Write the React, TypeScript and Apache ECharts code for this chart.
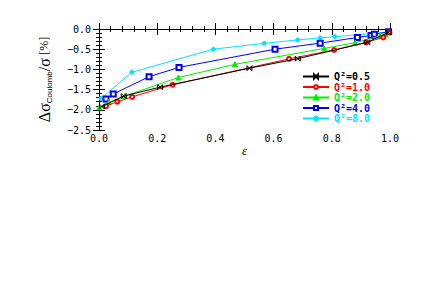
import React, { useEffect, useRef } from "react";
import * as echarts from "echarts";

const seriesNames = ["Q²=0.5", "Q²=1.0", "Q²=2.0", "Q²=4.0", "Q²=8.0"];
const seriesColors = ["#000000", "#ff0000", "#00ee00", "#0000ff", "#00e5ff"];

const q05: number[][] = [
  [0.01, -1.92], [0.085, -1.66], [0.21, -1.44], [0.517, -0.97], [0.683, -0.735], [0.922, -0.33], [0.995, -0.08],
];
const q10: number[][] = [
  [0.024, -1.91], [0.063, -1.8], [0.114, -1.68], [0.253, -1.38], [0.653, -0.74], [0.808, -0.52], [0.918, -0.33], [0.977, -0.21], [0.998, -0.08],
];
const q20: number[][] = [
  [0.001, -1.94], [0.034, -1.81], [0.089, -1.66], [0.273, -1.2], [0.467, -0.875], [0.774, -0.48], [0.88, -0.34], [0.966, -0.17], [0.985, -0.13],
];
const q40: number[][] = [
  [0.024, -1.73], [0.049, -1.61], [0.172, -1.18], [0.275, -0.95], [0.605, -0.5], [0.76, -0.35], [0.888, -0.21], [0.935, -0.16], [0.946, -0.13], [0.995, -0.07],
];
const q80: number[][] = [
  [0.007, -1.72], [0.113, -1.07], [0.393, -0.5], [0.568, -0.355], [0.683, -0.27], [0.76, -0.22], [0.811, -0.19], [0.99, -0.08],
];
const allData = [q05, q10, q20, q40, q80];
const symbols = [
  "path://M0,0L10,10L10,0L0,10Z",
  "emptyCircle",
  "triangle",
  "emptyRect",
  "circle",
];
const symbolSizes = [5, 4, 5, 5, 4];

const tickFont = "DejaVu Sans Mono";

export default function App() {
  const ref = useRef<HTMLDivElement>(null);
  useEffect(() => {
    if (!ref.current) return;
    const chart = echarts.init(ref.current, null, { renderer: "svg" });
    const axisLine = { show: true, lineStyle: { color: "#000", width: 1 } };
    const tick = { show: true, inside: true, length: 6, lineStyle: { color: "#000" } };
    const minor = { show: true, splitNumber: 5, length: 3, lineStyle: { color: "#000" } };
    const label = {
      fontFamily: tickFont,
      fontSize: 10,
      color: "#000",
    };
    chart.setOption({
      animation: false,
      backgroundColor: "#fff",
      grid: { left: 99, top: 29, right: 46, bottom: 170, containLabel: false },
      legend: {
        orient: "vertical",
        left: 302,
        top: 71.5,
        padding: 0,
        itemWidth: 26,
        itemHeight: 5,
        itemGap: 0.5,
        textStyle: { fontFamily: tickFont, fontSize: 10, fontWeight: "bold", lineHeight: 9 },
        data: seriesNames.map((n, i) => ({ name: n, textStyle: { color: seriesColors[i] } })),
      },
      xAxis: [
        {
          type: "value",
          min: 0,
          max: 1,
          interval: 0.2,
          position: "bottom",
          axisLine,
          axisTick: tick,
          minorTick: minor,
          splitLine: { show: false },
          axisLabel: { ...label, margin: 3, formatter: (v: number) => v.toFixed(1) },
          name: "ε",
          nameLocation: "middle",
          nameGap: 11,
          nameTextStyle: { fontFamily: "Liberation Serif", fontStyle: "italic", fontSize: 13, color: "#000" },
        },
        {
          type: "value",
          min: 0,
          max: 1,
          interval: 0.2,
          position: "top",
          axisLine,
          axisTick: tick,
          minorTick: minor,
          splitLine: { show: false },
          axisLabel: { show: false },
        },
      ],
      yAxis: [
        {
          type: "value",
          min: -2.5,
          max: 0,
          interval: 0.5,
          position: "left",
          axisLine,
          axisTick: tick,
          minorTick: minor,
          splitLine: { show: false },
          axisLabel: {
            ...label,
            margin: 8,
            formatter: (v: number) => (v < 0 ? "−" + Math.abs(v).toFixed(1) : v.toFixed(1)),
          },
          name: "{a|Δσ}{b|Coulomb}{a|/σ} {c|[%]}",
          nameLocation: "middle",
          nameGap: 46,
          nameRotate: 90,
          nameTextStyle: {
            color: "#000",
            rich: {
              a: { fontFamily: "Liberation Serif", fontSize: 16, color: "#000" },
              b: { fontFamily: "Liberation Sans", fontSize: 8, color: "#000", padding: [10, 0, 0, 0] },
              c: { fontFamily: "Liberation Serif", fontSize: 12, color: "#000" },
            },
          },
        },
        {
          type: "value",
          min: -2.5,
          max: 0,
          interval: 0.5,
          position: "right",
          axisLine,
          axisTick: tick,
          minorTick: minor,
          splitLine: { show: false },
          axisLabel: { show: false },
        },
      ],
      series: allData.map((d, i) => ({
        name: seriesNames[i],
        type: "line",
        data: d,
        xAxisIndex: 0,
        yAxisIndex: 0,
        symbol: symbols[i],
        symbolSize: symbolSizes[i],
        showAllSymbol: true,
        lineStyle: { color: seriesColors[i], width: 1 },
        itemStyle: {
          color: i === 0 ? "transparent" : seriesColors[i],
          borderColor: seriesColors[i],
          borderWidth: 1,
        },
        emphasis: { disabled: true },
        z: 10 - i,
      })),
    });
    return () => chart.dispose();
  }, []);
  return (
    <div
      ref={ref}
      style={{ position: "fixed", left: 0, top: 0, width: 436, height: 300, background: "#fff" }}
    />
  );
}
